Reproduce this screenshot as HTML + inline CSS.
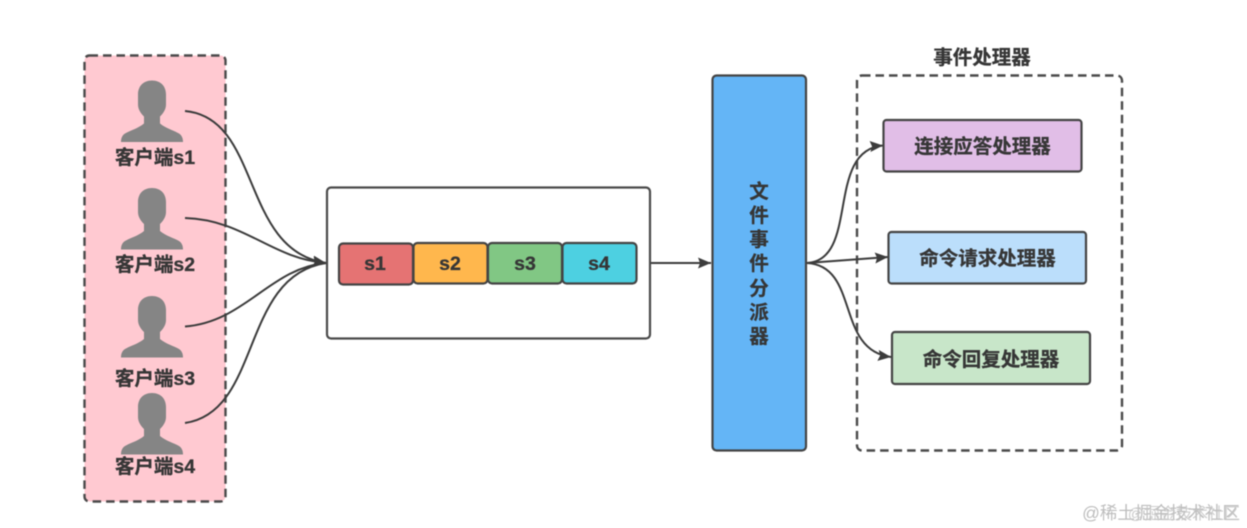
<!DOCTYPE html>
<html><head><meta charset="utf-8">
<style>
html,body{margin:0;padding:0;background:#fff;width:1247px;height:528px;overflow:hidden}
svg{display:block;filter:blur(.5px)}
text{font-family:"Liberation Sans","Noto Sans CJK SC",sans-serif;font-weight:700;fill:#363636;stroke:#363636;stroke-width:.3px;text-anchor:middle}
</style></head><body>
<svg width="1247" height="528" viewBox="0 0 1247 528" xmlns="http://www.w3.org/2000/svg">
<defs>
<g id="p"><path d="M0 0C9 0 14 6 14 14V24C14 29 11 33 8 36V43C14 48 22 50 27 53C30 55 31 58 31 61.500H-31C-31 58 -30 55 -27 53C-22 50 -14 48 -8 43V36C-11 33 -14 29 -14 24V14C-14 6 -9 0 0 0Z" fill="#858585"/></g>
<marker id="a" markerUnits="userSpaceOnUse" markerWidth="14" markerHeight="12" refX="13" refY="5.500" orient="auto"><path d="M0 0L13 5.500L0 11L2 5.500Z" fill="#3c3c3c"/></marker>
</defs>
<rect x="84.500" y="55.500" width="141" height="446" rx="5" fill="#ffc9d1" stroke="#4a4a4a" stroke-width="2.400" stroke-dasharray="8.500 5"/>
<rect x="857" y="75.500" width="265" height="375" rx="5" fill="#fff" stroke="#4a4a4a" stroke-width="2.400" stroke-dasharray="8.500 5"/>
<use href="#p" x="152" y="80.500"/><use href="#p" x="152" y="188"/><use href="#p" x="152" y="296"/><use href="#p" x="152" y="393"/>
<g font-size="19.500">
<text x="155" y="164">客户端s1</text><text x="155" y="271">客户端s2</text><text x="155" y="385">客户端s3</text><text x="155" y="473">客户端s4</text>
</g>
<rect x="327" y="187.500" width="323" height="151" rx="4" fill="#fff" stroke="#4a4a4a" stroke-width="2.200"/>
<g fill="none" stroke="#3c3c3c" stroke-width="2">
<path d="M185 111C262 118 240 250 326 263" marker-end="url(#a)"/>
<path d="M185 218C245 220 270 258 326 263" marker-end="url(#a)"/>
<path d="M185 326.500C245 322 270 268 326 263"/>
<path d="M185 423C262 412 240 276 326 263"/>
<path d="M651 263H711" marker-end="url(#a)"/>
<path d="M807 263C860 260 825 150 883 145.500" marker-end="url(#a)"/>
<path d="M807 263L888 257" marker-end="url(#a)"/>
<path d="M807 263C860 266 835 350 891 357" marker-end="url(#a)"/>
</g>
<g stroke="#444" stroke-width="2.200">
<rect x="339" y="243.500" width="74" height="41" rx="4" fill="#e57373"/>
<rect x="413.500" y="243" width="74" height="40.500" rx="4" fill="#ffb74d"/>
<rect x="488" y="243" width="74" height="40.500" rx="4" fill="#81c784"/>
<rect x="562.500" y="243" width="74" height="40.500" rx="4" fill="#4dd0e1"/>
<rect x="712.500" y="75.500" width="93.500" height="375" rx="4" fill="#64b5f6"/>
<rect x="883.500" y="120" width="198" height="51.500" rx="3" fill="#e1bee7"/>
<rect x="888.500" y="232" width="197.500" height="51.500" rx="3" fill="#bbdefb"/>
<rect x="892" y="332" width="198" height="52" rx="3" fill="#c8e6c9"/>
</g>
<g font-size="19.500">
<text x="375" y="270">s1</text><text x="450" y="270">s2</text><text x="525" y="270">s3</text><text x="599" y="270">s4</text>
<text x="982" y="64">事件处理器</text>
<text x="982.500" y="153">连接应答处理器</text>
<text x="987.500" y="265">命令请求处理器</text>
<text x="991" y="366">命令回复处理器</text>
<text x="759" y="198">文</text><text x="759" y="222">件</text><text x="759" y="246">事</text><text x="759" y="270">件</text><text x="759" y="295">分</text><text x="759" y="319">派</text><text x="759" y="343">器</text>
</g>
<text x="1161" y="519" font-size="17.500" style="fill:#bdbdbd;stroke:none;font-weight:400">@稀土掘金技术社区</text>
<text x="1240" y="519" font-size="16" style="fill:#c6c6c6;stroke:none;font-weight:400;text-anchor:end" opacity=".85">@掘金技术社区</text>
</svg>
</body></html>
